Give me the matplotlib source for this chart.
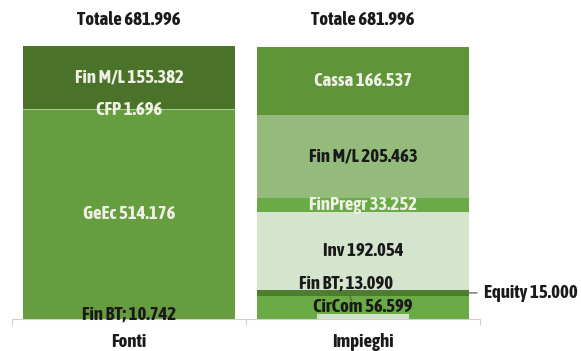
import matplotlib
matplotlib.use("Agg")
import matplotlib.pyplot as plt
from matplotlib.ticker import FixedLocator

plt.rcParams['font.family'] = ['Liberation Sans Narrow', 'Asap Condensed', 'DejaVu Sans']
plt.rcParams['font.weight'] = 'bold'

categories = ["Fonti", "Impieghi"]
totals = [681.996, 681.996]

# Sources: main stack bottom to top, plus short-term debt overlaid at the base
fonti_names = ["GeEc", "CFP", "Fin M/L"]
fonti_values = [514.176, 1.696, 155.382]
fonti_colors = ["#669d3f", "#a9cf8c", "#4b7229"]
fonti_finbt = 10.742

# Uses: main stack bottom to top, plus short-term debt overlaid at the base
impieghi_names = ["CirCom", "Equity", "Inv", "FinPregr", "Fin M/L", "Cassa"]
impieghi_values = [56.599, 15.000, 192.054, 33.252, 205.463, 166.537]
impieghi_colors = ["#6aab45", "#4e7d30", "#d5e4cd", "#6aab45", "#94bb7b", "#5f9538"]
impieghi_finbt = 13.090


def fmt(v):
    return f"{v:.3f}"


fig = plt.figure(figsize=(5.81, 3.51), dpi=100)
ax = fig.add_axes([12 / 581, 32 / 351, 468 / 581, 273 / 351])

width = 0.91
stacks = [(fonti_names, fonti_values, fonti_colors),
          (impieghi_names, impieghi_values, impieghi_colors)]
seg = {}
tops = []
for i, (names, vals, cols) in enumerate(stacks):
    base = 0.0
    for n, v, c in zip(names, vals, cols):
        ax.bar(i, v, width=width, bottom=base, color=c, edgecolor="none")
        seg[(i, n)] = (base, v)
        base += v
    tops.append(base)

# Short-term debt blocks at the base of each bar
ax.bar(0, fonti_finbt, width=width, bottom=0, color="#669d3f", edgecolor="none")
ax.bar(1, impieghi_finbt, width=0.39, bottom=0, color="#d3e0ca", edgecolor="none")

ymax = max(tops)
ax.set_xlim(-0.5, 1.5)
ax.set_ylim(0, ymax)

white = "#eef0e6"
black = "#1a1a1a"
fs = 13.5


def mid(i, n):
    b, v = seg[(i, n)]
    return b + v / 2


# Fonti labels
ax.text(0, mid(0, "Fin M/L"), f"Fin M/L {fmt(fonti_values[2])}", ha="center", va="center",
        color=white, fontsize=fs)
ax.text(0, seg[(0, "CFP")][0], f"CFP {fmt(fonti_values[1])}", ha="center", va="center",
        color=white, fontsize=fs)
ax.text(0, mid(0, "GeEc"), f"GeEc {fmt(fonti_values[0])}", ha="center", va="center",
        color=white, fontsize=fs)
ax.text(0, fonti_finbt, f"Fin BT; {fmt(fonti_finbt)}", ha="center", va="center",
        color=black, fontsize=fs)

# Impieghi labels
ax.text(1, mid(1, "Cassa"), f"Cassa {fmt(impieghi_values[5])}", ha="center", va="center",
        color=white, fontsize=fs)
ax.text(1, mid(1, "Fin M/L"), f"Fin M/L {fmt(impieghi_values[4])}", ha="center", va="center",
        color=black, fontsize=fs)
ax.text(1, mid(1, "FinPregr"), f"FinPregr {fmt(impieghi_values[3])}", ha="center", va="center",
        color=white, fontsize=fs)
ax.text(1, mid(1, "Inv"), f"Inv {fmt(impieghi_values[2])}", ha="center", va="center",
        color=black, fontsize=fs)
ax.text(1, mid(1, "CirCom"), f"CirCom {fmt(impieghi_values[0])}", ha="center", va="center",
        color=black, fontsize=fs)
ax.annotate(f"Fin BT; {fmt(impieghi_finbt)}", xy=(0.953, 42),
            xytext=(0.927, 86), ha="center", va="center",
            color=black, fontsize=fs,
            arrowprops=dict(arrowstyle="-", color="#4a4a4a", lw=0.6, shrinkA=5, shrinkB=0))
eq_y = mid(1, "Equity")
ax.annotate(f"Equity {fmt(impieghi_values[1])}", xy=(1 + width / 2, eq_y),
            xytext=(1.5 + 4 / 234, eq_y), ha="left", va="center",
            color=black, fontsize=fs, annotation_clip=False,
            arrowprops=dict(arrowstyle="-", color="#4a4a4a", lw=0.8, shrinkA=3, shrinkB=0))

# Totals above bars
for i, t in enumerate(totals):
    ax.text(i, ymax + 64, f"Totale {fmt(t)}", ha="center", va="center", color=black, fontsize=fs)

# Axis styling
for s in ["top", "right", "left"]:
    ax.spines[s].set_visible(False)
ax.spines["bottom"].set_color("#d0d0d0")
ax.spines["bottom"].set_linewidth(0.8)
ax.set_yticks([])
ax.set_xticks(range(len(categories)))
ax.set_xticklabels(categories, fontsize=fs, color=black, fontweight="bold")
ax.tick_params(axis="x", which="major", length=0, pad=10)
ax.xaxis.set_minor_locator(FixedLocator([-0.5, 0.5, 1.5]))
ax.tick_params(axis="x", which="minor", length=4, color="#d0d0d0", width=0.8)

fig.savefig("out.png", dpi=100, facecolor="white")
